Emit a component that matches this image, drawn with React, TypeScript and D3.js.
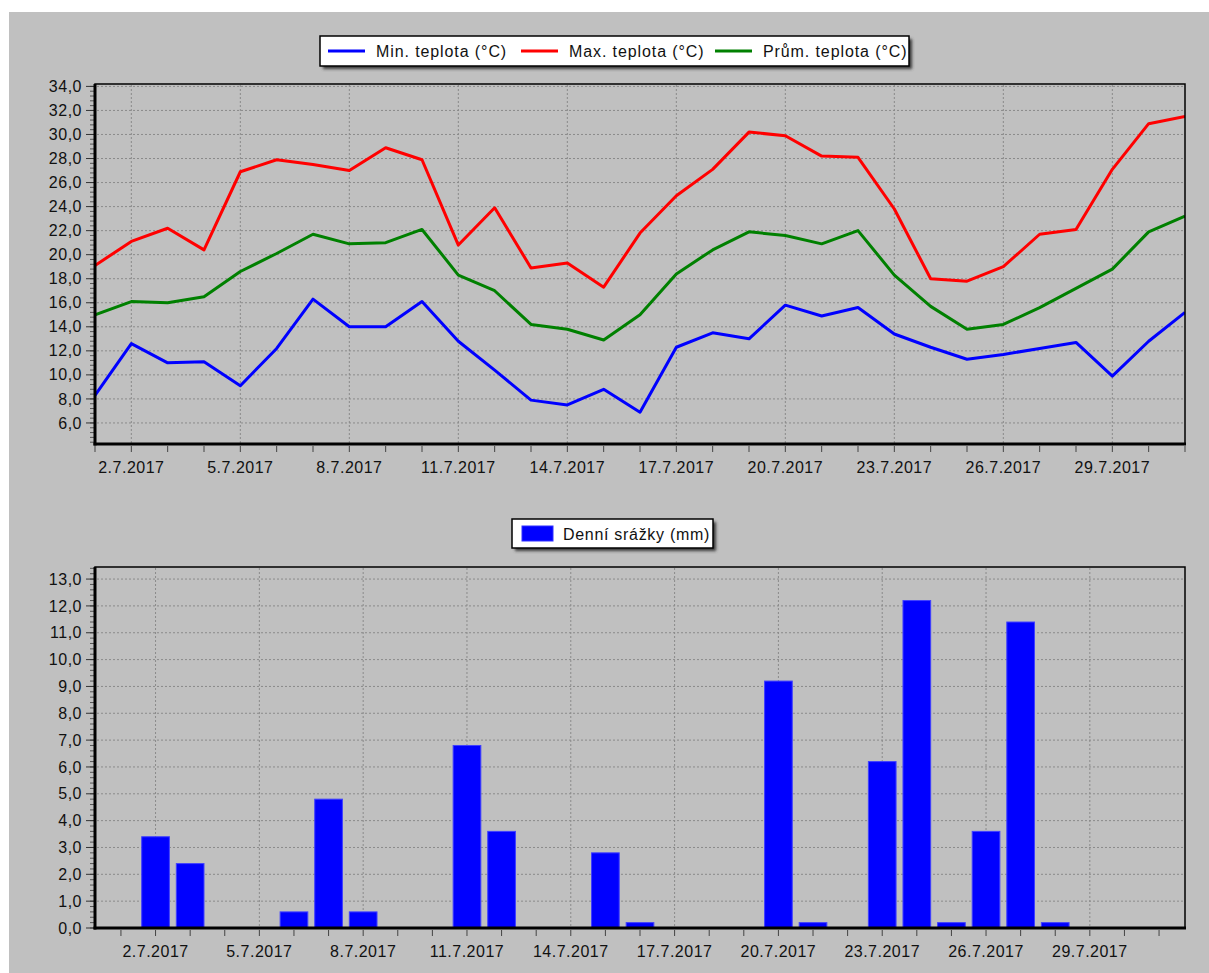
import * as d3 from "d3";

// July 2017, day of month
const days = [1, 2, 3, 4, 5, 6, 7, 8, 9, 10, 11, 12, 13, 14, 15, 16, 17, 18, 19, 20, 21, 22, 23, 24, 25, 26, 27, 28, 29, 30, 31];
const labelDays = [2, 5, 8, 11, 14, 17, 20, 23, 26, 29];

const minTemp = [8.3, 12.6, 11.0, 11.1, 9.1, 12.2, 16.3, 14.0, 14.0, 16.1, 12.8, 10.4, 7.9, 7.5, 8.8, 6.9, 12.3, 13.5, 13.0, 15.8, 14.9, 15.6, 13.4, 12.3, 11.3, 11.7, 12.2, 12.7, 9.9, 12.8, 15.2];
const maxTemp = [19.1, 21.1, 22.2, 20.4, 26.9, 27.9, 27.5, 27.0, 28.9, 27.9, 20.8, 23.9, 18.9, 19.3, 17.3, 21.8, 24.9, 27.1, 30.2, 29.9, 28.2, 28.1, 23.8, 18.0, 17.8, 19.0, 21.7, 22.1, 27.1, 30.9, 31.5];
const avgTemp = [15.0, 16.1, 16.0, 16.5, 18.6, 20.1, 21.7, 20.9, 21.0, 22.1, 18.3, 17.0, 14.2, 13.8, 12.9, 15.0, 18.4, 20.4, 21.9, 21.6, 20.9, 22.0, 18.3, 15.7, 13.8, 14.2, 15.6, 17.2, 18.8, 21.9, 23.2];
const rain = [0, 3.4, 2.4, 0, 0, 0.6, 4.8, 0.6, 0, 0, 6.8, 3.6, 0, 0, 2.8, 0.2, 0, 0, 0, 9.2, 0.2, 0, 6.2, 12.2, 0.2, 3.6, 11.4, 0.2, 0, 0, 0];

const tempTicks = [6, 8, 10, 12, 14, 16, 18, 20, 22, 24, 26, 28, 30, 32, 34];
const rainTicks = [0, 1, 2, 3, 4, 5, 6, 7, 8, 9, 10, 11, 12, 13];

const tempSeries = [
  { name: "Min. teplota (°C)", values: minTemp, color: "#0000ff" },
  { name: "Max. teplota (°C)", values: maxTemp, color: "#ff0000" },
  { name: "Prům. teplota (°C)", values: avgTemp, color: "#008000" },
];

const W = 1209;
const H = 973;
const FONT = "'Liberation Sans', Arial, sans-serif";
const fmt = (v: number) => v.toFixed(1).replace(".", ",");
const dayLabel = (d: number) => `${d}.7.2017`;

const L = 95, R = 1185;
const top1 = 84, bot1 = 444;
const top2 = 567, bot2 = 928;

function Frame({ t, b }: { t: number; b: number }) {
  return (
    <g>
      <rect x={L} y={t} width={R - L} height={b - t} fill="none" stroke="#000" strokeWidth={1.5} />
      <line x1={L} x2={L} y1={t} y2={b + 1.5} stroke="#000" strokeWidth={3} />
      <line x1={L - 1.5} x2={R + 1} y1={b} y2={b} stroke="#000" strokeWidth={3} />
    </g>
  );
}

function YAxis({ y, ticks, step }: { y: d3.ScaleLinear<number, number>; ticks: number[]; step: number }) {
  const [lo, hi] = y.domain();
  const minor: number[] = [];
  for (let v = Math.ceil(lo / step) * step; v <= hi + 1e-9; v += step) minor.push(v);
  return (
    <g>
      {ticks.map(v => (
        <line key={"g" + v} x1={L + 2} x2={R} y1={y(v)} y2={y(v)} stroke="#8a8a8a" strokeDasharray="2,2" />
      ))}
      {minor.map((v, i) => (
        <line key={"m" + i} x1={L - 5} x2={L} y1={y(v)} y2={y(v)} stroke="#555" />
      ))}
      {ticks.map(v => (
        <g key={"t" + v}>
          <line x1={L - 9} x2={L} y1={y(v)} y2={y(v)} stroke="#333" />
          <text x={L - 13} y={y(v)} dy="0.35em" textAnchor="end" fontSize={16} letterSpacing={0.5} fontFamily={FONT} fill="#111">
            {fmt(v)}
          </text>
        </g>
      ))}
    </g>
  );
}

function XAxis({ x, b, t }: { x: d3.ScaleLinear<number, number>; b: number; t: number }) {
  return (
    <g>
      {labelDays.map(d => (
        <line key={"g" + d} x1={x(d)} x2={x(d)} y1={t + 1} y2={b - 1} stroke="#8a8a8a" strokeDasharray="2,2" />
      ))}
      {days.map(d => (
        <line key={"t" + d} x1={x(d)} x2={x(d)} y1={b + 2} y2={b + 8} stroke="#444" />
      ))}
      {labelDays.map(d => (
        <text key={"l" + d} x={x(d)} y={b + 23} dy="0.35em" textAnchor="middle" fontSize={16} letterSpacing={0.5} fontFamily={FONT} fill="#111">
          {dayLabel(d)}
        </text>
      ))}
    </g>
  );
}

function LegendBox({ x, y, w, h, children }: { x: number; y: number; w: number; h: number; children: any }) {
  return (
    <g>
      <rect x={x + 3} y={y + 3} width={w} height={h} fill="#3a3a3a" filter="url(#shadowBlur)" />
      <rect x={x} y={y} width={w} height={h} fill="#fff" stroke="#000" strokeWidth={1.5} />
      {children}
    </g>
  );
}

export default function App() {
  const x1 = d3.scaleLinear().domain([1, 31]).range([L, R]);
  const y1 = d3.scaleLinear().domain([4.25, 34.2]).range([bot1, top1]);
  const x2 = d3.scaleLinear().domain([0.25, 31.75]).range([L, R]);
  const y2 = d3.scaleLinear().domain([0, 13.45]).range([bot2, top2]);
  const barW = x2(0.8) - x2(0);

  const line = (vals: number[]) =>
    d3.line<number>()
      .x((_, i) => x1(days[i]))
      .y(v => y1(v))(vals) ?? "";

  return (
    <svg width={W} height={H} style={{ position: "absolute", left: 0, top: 0 }}>
      <defs>
        <filter id="shadowBlur" x="-10%" y="-50%" width="120%" height="200%">
          <feGaussianBlur stdDeviation="1.5" />
        </filter>
        <clipPath id="clip1">
          <rect x={L} y={top1} width={R - L} height={bot1 - top1} />
        </clipPath>
      </defs>
      <rect width={W} height={H} fill="#fff" />
      <rect x={9} y={12} width={W - 9} height={H - 12} fill="#c0c0c0" />

      {/* temperature chart */}
      <YAxis y={y1} ticks={tempTicks} step={0.4} />
      <XAxis x={x1} b={bot1} t={top1} />
      <g clipPath="url(#clip1)">
        {tempSeries.map(s => (
          <path key={s.name} d={line(s.values)} fill="none" stroke={s.color} strokeWidth={3} strokeLinejoin="round" />
        ))}
      </g>
      <Frame t={top1} b={bot1} />

      <LegendBox x={320} y={36} w={589} h={30}>
        {tempSeries.map((s, i) => {
          const ox = [328, 521, 715][i];
          return (
            <g key={s.name}>
              <line x1={ox} x2={ox + 37} y1={51} y2={51} stroke={s.color} strokeWidth={3} />
              <text x={ox + 48} y={51} dy="0.35em" fontSize={16} letterSpacing={0.9} fontFamily={FONT} fill="#111">
                {s.name}
              </text>
            </g>
          );
        })}
      </LegendBox>

      {/* precipitation chart */}
      <YAxis y={y2} ticks={rainTicks} step={0.2} />
      <XAxis x={x2} b={bot2} t={top2} />
      {days.map((d, i) =>
        rain[i] > 0 ? (
          <rect key={d} x={x2(d) - barW / 2} y={y2(rain[i])} width={barW} height={bot2 - y2(rain[i])} fill="#0000ff" stroke="#4040ff" strokeWidth={1} />
        ) : null
      )}
      <Frame t={top2} b={bot2} />

      <LegendBox x={512} y={519} w={201} h={29}>
        <rect x={522} y={526} width={31} height={15} fill="#0000ff" stroke="#3030ff" />
        <text x={563} y={534} dy="0.35em" fontSize={16} letterSpacing={0.7} fontFamily={FONT} fill="#111">
          Denní srážky (mm)
        </text>
      </LegendBox>
    </svg>
  );
}
